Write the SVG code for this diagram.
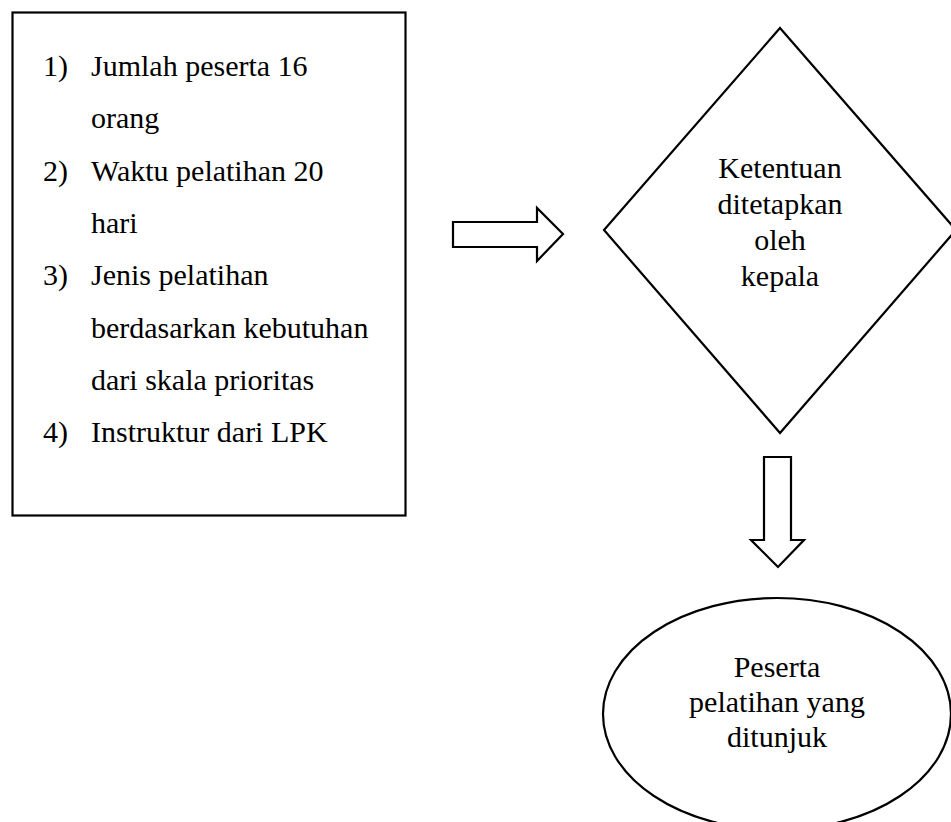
<svg xmlns="http://www.w3.org/2000/svg" width="951" height="822" viewBox="0 0 951 822">
<style>
.shape{fill:#fff;stroke:#000;stroke-width:2.2}
.t{font-family:"Liberation Serif","Times New Roman",serif;font-size:30px;fill:#000}
.c{text-anchor:middle}
</style>
<rect width="951" height="822" fill="#fff"/>
<g id="criteria">
<rect class="shape" x="12.5" y="12.5" width="393" height="503" stroke-width="2.6"/>
<text class="t" x="43" y="76">1)</text><text class="t" x="91" y="76">Jumlah peserta 16</text>
<text class="t" x="91" y="128">orang</text>
<text class="t" x="43" y="181">2)</text><text class="t" x="91" y="181">Waktu pelatihan 20</text>
<text class="t" x="91" y="233">hari</text>
<text class="t" x="43" y="285">3)</text><text class="t" x="91" y="285">Jenis pelatihan</text>
<text class="t" x="91" y="338">berdasarkan kebutuhan</text>
<text class="t" x="91" y="390">dari skala prioritas</text>
<text class="t" x="43" y="442">4)</text><text class="t" x="91" y="442">Instruktur dari LPK</text>
</g>
<g id="decision">
<polygon class="shape" points="780,28 956,230 780,433 604,230"/>
<text class="t c" x="780" y="178">Ketentuan</text>
<text class="t c" x="780" y="214">ditetapkan</text>
<text class="t c" x="780" y="250">oleh</text>
<text class="t c" x="780" y="286">kepala</text>
</g>
<g id="result">
<ellipse class="shape" cx="777" cy="714" rx="174" ry="116"/>
<text class="t c" x="777" y="677">Peserta</text>
<text class="t c" x="777" y="712">pelatihan yang</text>
<text class="t c" x="777" y="747">ditunjuk</text>
</g>
<g id="connectors">
<polygon class="shape" points="453,222 537,222 537,208 563,234 537,261 537,247 453,247"/>
<polygon class="shape" points="764,457 791,457 791,540 804,540 778,567 751,540 764,540"/>
</g>
</svg>
